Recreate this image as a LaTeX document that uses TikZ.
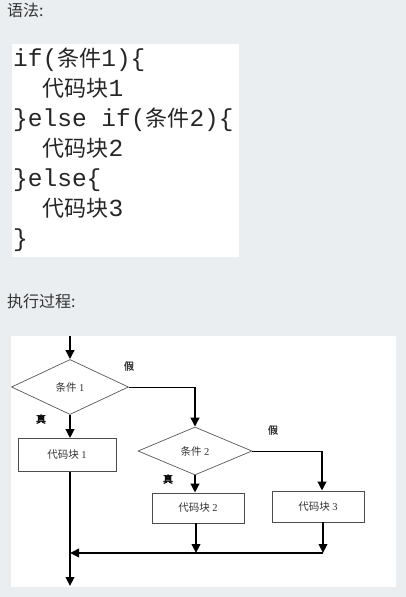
\documentclass[tikz,border=0pt]{standalone}
\usepackage{fontspec}
\setmainfont{Liberation Serif}
\setmonofont{Liberation Mono}
\newfontfamily\cjk{Noto Sans CJK SC}
\newfontfamily\cjkbold[FakeBold=2]{Noto Sans CJK SC}
\usetikzlibrary{shapes.geometric,arrows.meta}
\definecolor{pagegray}{HTML}{EBEEF0}
\definecolor{ink}{HTML}{333333}
\newcommand{\zh}[1]{{\cjk #1}}
\newcommand{\cn}[1]{{\cjk\fontsize{22}{30}\selectfont #1}}
\tikzset{
  cond/.style={diamond, draw=black!65, line width=0.7pt, inner sep=0pt, aspect=2,
    font=\fontsize{10.5}{12}\selectfont, text=ink},
  block/.style={rectangle, draw=black!70, line width=0.8pt, inner sep=0pt,
    font=\fontsize{10.5}{12}\selectfont, text=ink},
  flow/.style={line width=2.8pt, -{Triangle[length=9pt,width=8.5pt]}},
  link/.style={line width=1pt},
  tag/.style={font=\cjkbold\fontsize{10}{12}\selectfont, inner sep=0pt},
  heading/.style={font=\cjk\fontsize{16}{18}\selectfont, text=ink, inner sep=0pt, anchor=west},
}
\begin{document}
\begin{tikzpicture}[x=1pt,y=-1pt]
  \fill[pagegray] (0,0) rectangle (406,597);
  \useasboundingbox (0,0) rectangle (406,597);
  % syntax
  \node[heading] (syntax) at (7,10) {语法:};
  \fill[white] (12,44) rectangle (239,257);
  \node[anchor=north west, align=left, inner sep=0pt, text=black!85,
    font=\ttfamily\fontsize{24.5}{30}\selectfont] (code) at (13,48)
    {if(\cn{条件}1)\{\\
     \ \ \cn{代码块}1\\
     \}else if(\cn{条件}2)\{\\
     \ \ \cn{代码块}2\\
     \}else\{\\
     \ \ \cn{代码块}3\\
     \}};
  % flow chart
  \node[heading] (process) at (7,301) {执行过程:};
  \fill[white] (11,336) rectangle (396,587);
  \node[cond, minimum width=117pt, minimum height=55pt] (c1) at (70,387) {\zh{条件} 1};
  \node[block, minimum width=98pt, minimum height=33pt] (b1) at (67,455) {\zh{代码块} 1};
  \node[cond, minimum width=114pt, minimum height=48pt] (c2) at (195,451) {\zh{条件} 2};
  \node[block, minimum width=92pt, minimum height=30pt] (b2) at (198,508) {\zh{代码块} 2};
  \node[block, minimum width=92pt, minimum height=31pt] (b3) at (318,506.5) {\zh{代码块} 3};
  \node[tag, text=ink] (f1) at (129,366) {假};
  \node[tag] (t1) at (41,419) {真};
  \node[tag, text=ink] (f2) at (273,430) {假};
  \node[tag] (t2) at (168,479) {真};
  \coordinate (in) at (70,336);
  \coordinate (k1) at (195,387);
  \coordinate (k2) at (322,451);
  \coordinate (m1) at (70,553);
  \coordinate (m2) at (196,553);
  \coordinate (m3) at (323,553);
  \coordinate (out) at (70,586);
  \draw[flow] (in) -- (c1.north);
  \draw[flow] (c1.south) -- (c1.south |- b1.north);
  \draw[link] (c1.east) -- (k1);
  \draw[flow] (k1) -- (c2.north);
  \draw[flow] (c1.south |- b1.south) -- (out);
  \draw[flow] (c2.south) -- (c2.south |- b2.north);
  \draw[link] (c2.east) -- (k2);
  \draw[flow] (k2) -- (k2 |- b3.north);
  \draw[flow] (b2.south -| m2) -- (m2);
  \draw[flow] (b3.south -| m3) -- (m3);
  \draw[flow, line width=2pt] (m3) -- (m1);
\end{tikzpicture}
\end{document}
